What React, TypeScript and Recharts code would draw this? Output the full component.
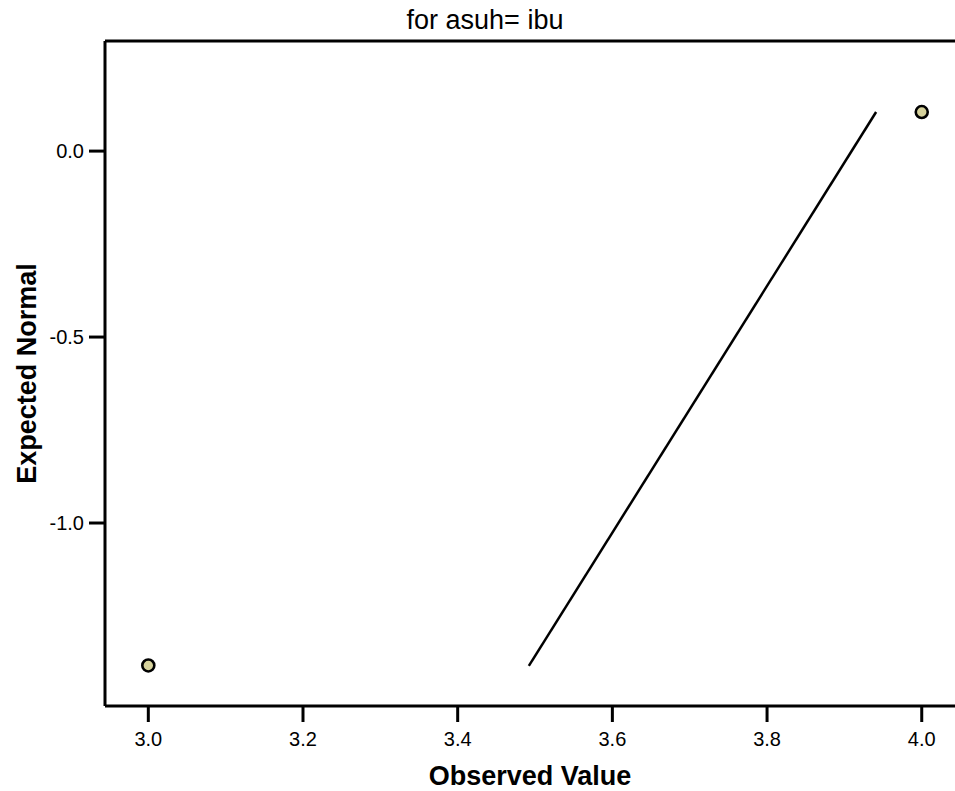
import React from 'react'
import { ScatterChart, Scatter, XAxis, YAxis, ReferenceLine, Label } from 'recharts'

const observed = [3.0, 4.0]
const expectedNormal = [-1.383, 0.105]
const fitX = [3.492, 3.941]
const fitY = [-1.384, 0.105]
const xTicks = [3.0, 3.2, 3.4, 3.6, 3.8, 4.0]
const yTicks = [0.0, -0.5, -1.0]

const points = observed.map((x, i) => ({ x, y: expectedNormal[i] }))
const fitLine = fitX.map((x, i) => ({ x, y: fitY[i] }))

const X_MIN = 2.944
const X_MAX = 4.043
const Y_MIN = -1.492
const Y_MAX = 0.296

const font = 'Arial, "Liberation Sans", sans-serif'

const Dot = (props: any) => {
    const { cx, cy } = props
    return <circle cx={cx} cy={cy} r={6} fill="#d6d29c" stroke="#000" strokeWidth={2.6} />
}

const App = () => {
    return (
        <div style={{ position: 'absolute', left: 0, top: 0, width: 955, height: 791, background: '#fff', fontFamily: font }}>
            <div style={{ position: 'absolute', left: 0, top: 4, width: 970, textAlign: 'center', fontSize: 27, lineHeight: '32px' }}>
                for asuh= ibu
            </div>
            <ScatterChart width={955} height={791} margin={{ top: 41, right: 0, bottom: 0, left: 0 }}>
                <XAxis
                    type="number"
                    dataKey="x"
                    domain={[X_MIN, X_MAX]}
                    ticks={xTicks}
                    allowDataOverflow
                    tickFormatter={(v: number) => v.toFixed(1)}
                    tickSize={16}
                    tickMargin={10}
                    tickLine={{ stroke: '#000', strokeWidth: 3 }}
                    axisLine={{ stroke: '#000', strokeWidth: 3 }}
                    tick={{ fill: '#000', fontSize: 20, fontFamily: font }}
                    height={85}
                >
                    <Label value="Observed Value" position="insideBottom" offset={6} style={{ fill: '#000', fontSize: 27, fontWeight: 'bold', fontFamily: font }} />
                </XAxis>
                <YAxis
                    type="number"
                    dataKey="y"
                    domain={[Y_MIN, Y_MAX]}
                    ticks={yTicks}
                    allowDataOverflow
                    tickFormatter={(v: number) => v.toFixed(1)}
                    tickSize={16}
                    tickMargin={5}
                    tickLine={{ stroke: '#000', strokeWidth: 3 }}
                    axisLine={{ stroke: '#000', strokeWidth: 3 }}
                    tick={{ fill: '#000', fontSize: 20, fontFamily: font }}
                    width={105}
                >
                    <Label value="Expected Normal" angle={-90} position="insideLeft" offset={26} style={{ textAnchor: 'middle', fill: '#000', fontSize: 27, fontWeight: 'bold', fontFamily: font }} />
                </YAxis>
                <ReferenceLine y={Y_MAX} stroke="#000" strokeWidth={3} ifOverflow="extendDomain" />
                <ReferenceLine
                    segment={[fitLine[0], fitLine[1]]}
                    stroke="#000"
                    strokeWidth={2.5}
                    ifOverflow="visible"
                />
                <Scatter data={points} shape={<Dot />} isAnimationActive={false} />
            </ScatterChart>
        </div>
    )
}

export default App
